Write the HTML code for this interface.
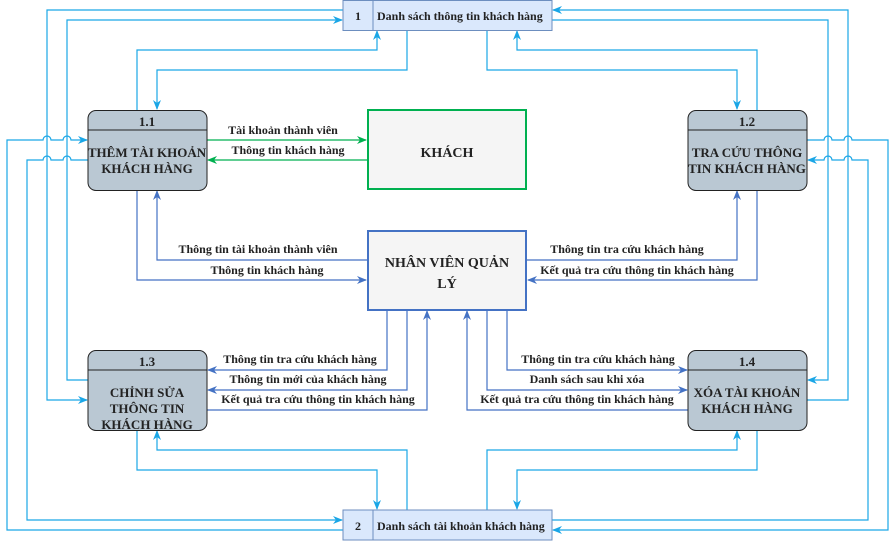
<!DOCTYPE html>
<html><head><meta charset="utf-8"><style>
body{margin:0;background:#fff}
svg text{font-family:"Liberation Serif",serif;font-weight:bold;fill:#222}
</style></head><body>
<svg width="896" height="541" viewBox="0 0 896 541" xmlns="http://www.w3.org/2000/svg">
<defs>
<marker id="c" markerWidth="10" markerHeight="10" refX="9" refY="5" orient="auto" markerUnits="userSpaceOnUse"><path d="M0,1 L10,5 L0,9 L3,5 z" fill="#1aa6e6"/></marker>
<marker id="b" markerWidth="10" markerHeight="10" refX="9" refY="5" orient="auto" markerUnits="userSpaceOnUse"><path d="M0,1 L10,5 L0,9 L3,5 z" fill="#4472c4"/></marker>
<marker id="g" markerWidth="10" markerHeight="10" refX="9" refY="5" orient="auto" markerUnits="userSpaceOnUse"><path d="M0,1 L10,5 L0,9 L3,5 z" fill="#00b050"/></marker>
</defs>
<g fill="none" stroke="#1aa6e6" stroke-width="1.2">
<path d="M343 10 H47 V400 H87" marker-end="url(#c)"/>
<path d="M88 380 H67 V20 H342" marker-end="url(#c)"/>
<path d="M137 110 V50 H377 V31" marker-end="url(#c)"/>
<path d="M407 30 V70 H157 V109" marker-end="url(#c)"/>
<path d="M343 530 H7 V140 H43 A4 4 0 0 1 51 140 H63 A4 4 0 0 1 71 140 H87" marker-end="url(#c)"/>
<path d="M88 160 H71 A4 4 0 0 0 63 160 H51 A4 4 0 0 0 43 160 H27 V520 H342" marker-end="url(#c)"/>
<path d="M807 400 H848 V10 H553" marker-end="url(#c)"/>
<path d="M552 20 H828 V380 H808" marker-end="url(#c)"/>
<path d="M757 110 V50 H517 V31" marker-end="url(#c)"/>
<path d="M487 30 V70 H737 V109" marker-end="url(#c)"/>
<path d="M807 140 H824 A4 4 0 0 1 832 140 H844 A4 4 0 0 1 852 140 H888 V530 H553" marker-end="url(#c)"/>
<path d="M552 520 H868 V160 H852 A4 4 0 0 0 844 160 H832 A4 4 0 0 0 824 160 H808" marker-end="url(#c)"/>
<path d="M137 430 V470 H377 V509" marker-end="url(#c)"/>
<path d="M407 510 V450 H157 V431" marker-end="url(#c)"/>
<path d="M487 510 V450 H737 V431" marker-end="url(#c)"/>
<path d="M757 430 V470 H517 V509" marker-end="url(#c)"/>
</g>
<g fill="none" stroke="#00b050" stroke-width="1.2">
<path d="M207 140 H366" marker-end="url(#g)"/>
<path d="M367 160 H208" marker-end="url(#g)"/>
</g>
<g fill="none" stroke="#4472c4" stroke-width="1.2">
<path d="M367 260 H157 V191" marker-end="url(#b)"/>
<path d="M137 190 V280 H366" marker-end="url(#b)"/>
<path d="M527 260 H737 V191" marker-end="url(#b)"/>
<path d="M757 190 V280 H528" marker-end="url(#b)"/>
<path d="M387 310 V370 H208" marker-end="url(#b)"/>
<path d="M407 310 V390 H208" marker-end="url(#b)"/>
<path d="M207 410 H427 V311" marker-end="url(#b)"/>
<path d="M507 310 V370 H687" marker-end="url(#b)"/>
<path d="M487 310 V390 H687" marker-end="url(#b)"/>
<path d="M688 410 H467 V311" marker-end="url(#b)"/>
</g>
<!-- stores -->
<g stroke="#6c8ebf" stroke-width="1" fill="#dae8fc">
<rect x="343" y="0.5" width="209" height="30"/><line x1="373" y1="0.5" x2="373" y2="30.5"/>
<rect x="343" y="510" width="209" height="30"/><line x1="373" y1="510" x2="373" y2="540"/>
</g>
<text x="355" y="20" font-size="12">1</text>
<text x="377" y="20" font-size="12">Danh sách thông tin khách hàng</text>
<text x="355" y="530" font-size="12">2</text>
<text x="377" y="530" font-size="12">Danh sách tài khoản khách hàng</text>
<!-- entities -->
<rect x="368" y="110" width="158" height="79" fill="#f5f5f5" stroke="#00b050" stroke-width="2"/>
<text x="447" y="157" font-size="14" text-anchor="middle" fill="#333">KHÁCH</text>
<rect x="368" y="231" width="158" height="79" fill="#f5f5f5" stroke="#4472c4" stroke-width="2"/>
<text x="447" y="267" font-size="14" text-anchor="middle">NHÂN VIÊN QUẢN</text>
<text x="447" y="288" font-size="14" text-anchor="middle">LÝ</text>
<!-- processes -->
<g fill="#bac8d3" stroke="#222" stroke-width="1">
<rect x="88" y="110.5" width="119" height="80" rx="8"/><line x1="88" y1="130" x2="207" y2="130"/>
<rect x="688" y="110.5" width="119" height="80" rx="8"/><line x1="688" y1="130" x2="807" y2="130"/>
<rect x="88" y="350.5" width="119" height="80" rx="8"/><line x1="88" y1="370" x2="207" y2="370"/>
<rect x="688" y="350.5" width="119" height="80" rx="8"/><line x1="688" y1="370" x2="807" y2="370"/>
</g>
<g font-size="13" text-anchor="middle">
<text x="147" y="126">1.1</text>
<text x="147" y="157">THÊM TÀI KHOẢN</text><text x="147" y="173">KHÁCH HÀNG</text>
<text x="747" y="126">1.2</text>
<text x="747" y="157">TRA CỨU THÔNG</text><text x="747" y="173">TIN KHÁCH HÀNG</text>
<text x="147" y="366">1.3</text>
<text x="147" y="397">CHỈNH SỬA</text><text x="147" y="413">THÔNG TIN</text><text x="147" y="429">KHÁCH HÀNG</text>
<text x="747" y="366">1.4</text>
<text x="747" y="397">XÓA TÀI KHOẢN</text><text x="747" y="413">KHÁCH HÀNG</text>
</g>
<g font-size="12" text-anchor="middle">
<text x="283" y="134">Tài khoản thành viên</text>
<text x="288" y="154">Thông tin khách hàng</text>
<text x="258" y="253">Thông tin tài khoản thành viên</text>
<text x="267" y="274">Thông tin khách hàng</text>
<text x="627" y="253">Thông tin tra cứu khách hàng</text>
<text x="637" y="274">Kết quả tra cứu thông tin khách hàng</text>
<text x="300" y="363">Thông tin tra cứu khách hàng</text>
<text x="308" y="383">Thông tin mới của khách hàng</text>
<text x="318" y="403">Kết quả tra cứu thông tin khách hàng</text>
<text x="598" y="363">Thông tin tra cứu khách hàng</text>
<text x="587" y="383">Danh sách sau khi xóa</text>
<text x="577" y="403">Kết quả tra cứu thông tin khách hàng</text>
</g>
</svg>
</body></html>
